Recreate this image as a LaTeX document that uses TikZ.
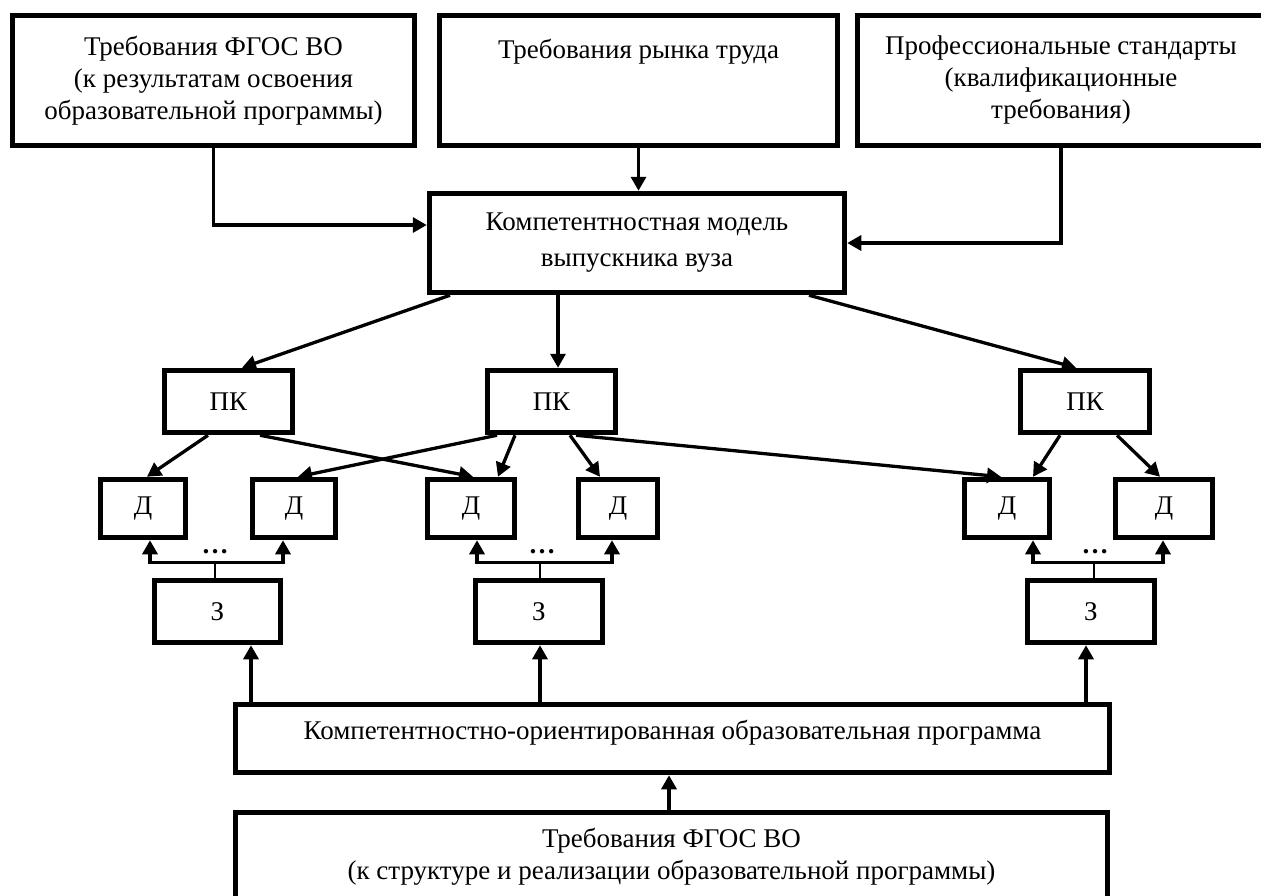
\documentclass[tikz,border=0pt]{standalone}
\usepackage{fontspec}
\setmainfont{Liberation Serif}
\usetikzlibrary{arrows.meta}
\begin{document}
\begin{tikzpicture}[x=1pt,y=-1pt,
  bx/.style={draw, line width=5.5pt, align=center, inner sep=0pt,
             font=\fontsize{27}{32}\selectfont},
  arr/.style={line width=3.3pt, -{Triangle[length=14pt,width=15pt]}},
  arrtwo/.style={line width=3.3pt, {Triangle[length=14pt,width=15pt]}-{Triangle[length=14pt,width=15pt]}},
  stem/.style={line width=1.5pt},
  dotsst/.style={font=\fontsize{27}{27}\selectfont\bfseries, inner sep=0pt, anchor=base}]
\useasboundingbox (0,0) rectangle (1261,895);

% top row
\node[bx, minimum width=402pt, minimum height=130pt] (A) at (213.5,80.5)
  {Требования ФГОС ВО\\(к результатам освоения\\образовательной программы)};
\node[bx, minimum width=398pt, minimum height=130pt] (B) at (638.5,80.5)
  {Требования рынка труда\\~\\~};
\node[bx, minimum width=407pt, minimum height=130pt] (C) at (1061,80.5)
  {Профессиональные стандарты\\(квалификационные\\требования)};

% model
\node[bx, minimum width=415pt, minimum height=99pt] (M) at (637,243)
  {Компетентностная модель\\[4pt]выпускника вуза};

% PK
\node[bx, minimum width=128pt, minimum height=62pt] (pk1) at (228.5,401.5) {ПК};
\node[bx, minimum width=128pt, minimum height=62pt] (pk2) at (551.5,401.5) {ПК};
\node[bx, minimum width=129pt, minimum height=62pt] (pk3) at (1085,401.5) {ПК};

% D
\node[bx, minimum width=85pt, minimum height=58pt] (d1) at (143,508.5) {Д};
\node[bx, minimum width=83pt, minimum height=58pt] (d2) at (294,508.5) {Д};
\node[bx, minimum width=87pt, minimum height=58pt] (d3) at (471,508.5) {Д};
\node[bx, minimum width=79pt, minimum height=58pt] (d4) at (618,508.5) {Д};
\node[bx, minimum width=85pt, minimum height=58pt] (d5) at (1007,508.5) {Д};
\node[bx, minimum width=97pt, minimum height=58pt] (d6) at (1164,508.5) {Д};

% Z
\node[bx, minimum width=126pt, minimum height=62pt] (z1) at (217.5,611.5) {З};
\node[bx, minimum width=127pt, minimum height=62pt] (z2) at (539,611.5) {З};
\node[bx, minimum width=127pt, minimum height=62pt] (z3) at (1091,611.5) {З};

% program
\node[bx, minimum width=874pt, minimum height=68pt] (P) at (672.5,738.5)
  {Компетентностно-ориентированная образовательная программа\\[-14pt]~};
\node[bx, minimum width=872pt, minimum height=88pt] (Q) at (671.5,856.5)
  {Требования ФГОС ВО\\(к структуре и реализации образовательной программы)};

% top -> model
\draw[arr] (A.south) |- ([yshift=18pt]M.west);
\draw[arr] (B.south) -- (B.south |- M.north);
\draw[arr] (C.south) |- (M.east);

% model -> PK
\draw[arr] ([xshift=-187pt]M.south) -- ([xshift=13.5pt]pk1.north);
\draw[arr] ([xshift=-79pt]M.south) -- ([xshift=6.5pt]pk2.north);
\draw[arr] ([xshift=172pt]M.south) -- ([xshift=-9pt]pk3.north);

% PK -> D
\draw[arr] ([xshift=-20.5pt]pk1.south) -- ([xshift=4pt]d1.north);
\draw[arr] ([xshift=31.5pt]pk1.south) -- ([xshift=2pt]d3.north);
\draw[arr] ([xshift=-54.5pt]pk2.south) -- ([xshift=4pt]d2.north);
\draw[arr] ([xshift=-36.5pt]pk2.south) -- ([xshift=27pt]d3.north);
\draw[arr] ([xshift=18.5pt]pk2.south) -- ([xshift=-18pt]d4.north);
\draw[arr] ([xshift=24.5pt]pk2.south) -- ([xshift=-6pt]d5.north);
\draw[arr] ([xshift=-25pt]pk3.south) -- ([xshift=26pt]d5.north);
\draw[arr] ([xshift=32pt]pk3.south) -- ([xshift=-4pt]d6.north);

% brackets Z -> D
\coordinate (j1) at ([xshift=-2.5pt,yshift=15pt]z1.north);
\coordinate (j2) at ([xshift=1pt,yshift=15pt]z2.north);
\coordinate (j3) at ([xshift=3pt,yshift=15pt]z3.north);
\draw[stem] (j1 |- z1.north) -- (j1);
\draw[stem] (j2 |- z2.north) -- (j2);
\draw[stem] (j3 |- z3.north) -- (j3);
\draw[arrtwo] ([xshift=7pt]d1.south) |- (j1) -| ([xshift=-11pt]d2.south);
\draw[arrtwo] ([xshift=6pt]d3.south) |- (j2) -| ([xshift=-6pt]d4.south);
\draw[arrtwo] ([xshift=26pt]d5.south) |- (j3) -| ([xshift=-1pt]d6.south);
\node[dotsst] (dots1) at (215,553) {…};
\node[dotsst] (dots2) at (542,553) {…};
\node[dotsst] (dots3) at (1095,553) {…};

% program -> Z
\coordinate (a1) at ([xshift=33.5pt]z1.south);
\coordinate (a2) at ([xshift=1pt]z2.south);
\coordinate (a3) at ([xshift=-5pt]z3.south);
\draw[arr] (a1 |- P.north) -- (a1);
\draw[arr] (a2 |- P.north) -- (a2);
\draw[arr] (a3 |- P.north) -- (a3);

% standards -> program
\coordinate (q1) at ([xshift=-2.5pt]Q.north);
\draw[arr] (q1) -- (q1 |- P.south);
\end{tikzpicture}
\end{document}
